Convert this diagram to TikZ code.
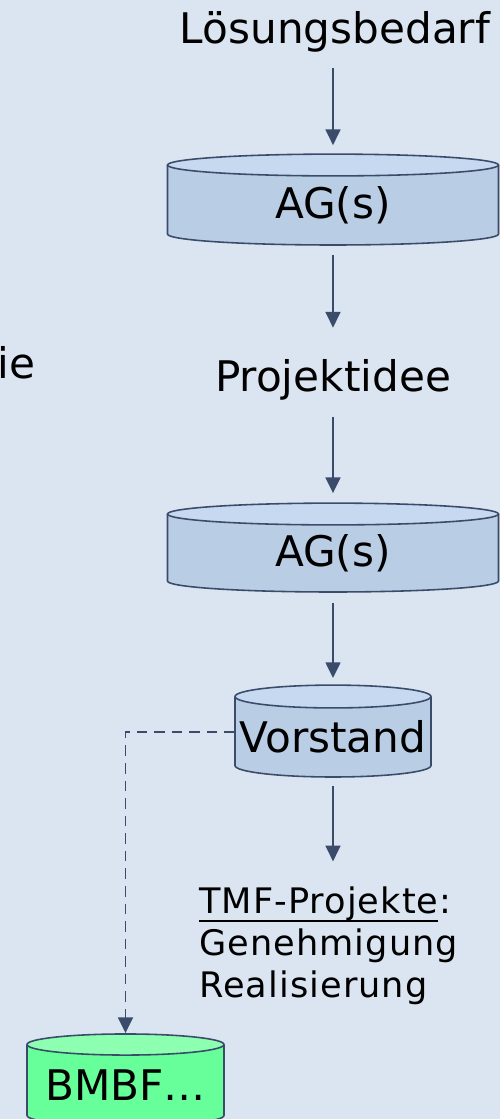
\documentclass[tikz,border=0pt]{standalone}
\usepackage{fontspec}
\setmainfont{DejaVu Sans}
\usepackage{xcolor}
\usepackage{tikz}
\usetikzlibrary{arrows.meta,calc}
\definecolor{bgblue}{HTML}{DBE5F1}
\definecolor{drumbody}{HTML}{B9CDE5}
\definecolor{drumtop}{HTML}{C6D9F1}
\definecolor{edgeblue}{HTML}{3B4C6B}
\definecolor{bmbfbody}{HTML}{66FF99}
\definecolor{bmbftop}{HTML}{8CFFB0}
\pgfdeclarelayer{drumlayer}
\pgfsetlayers{drumlayer,main}
\newlength\tmfw
\newcommand\tmfunder[1]{\settowidth\tmfw{#1}\rlap{\rule[-5pt]{\tmfw}{1.1pt}}#1}
% cylinder drawn round a named node: node, end radius, body colour, top colour
\newcommand\drumshape[4]{%
  \path[fill=#3, draw=edgeblue, line width=0.9pt]
    let \p1=($(#1.east)-(#1.west)$) in
    (#1.north west) -- ([yshift=#2]#1.south west)
    arc[start angle=180, end angle=360, x radius=0.5*\x1, y radius=#2]
    -- (#1.north east);
  \path[fill=#4, draw=edgeblue, line width=0.9pt]
    let \p1=($(#1.east)-(#1.west)$) in
    (#1.north) ellipse[x radius=0.5*\x1, y radius=#2];
}
\tikzset{
  big/.style={font=\fontsize{24}{29}\selectfont},
  drum/.style={big, rectangle, inner sep=0, outer sep=0},
  flow/.style={draw=edgeblue, line width=1.1pt, -{Triangle[length=9pt,width=8.5pt]}},
  link/.style={flow, dash pattern=on 6pt off 4pt},
}

\begin{document}
\begin{tikzpicture}[x=0.02cm,y=-0.02cm]
\useasboundingbox (0,0) rectangle (500,1119);
\clip (0,0) rectangle (500,1119);

\node[big, anchor=base east, inner sep=0] (cut) at (36,378) {ie};

\node[big, anchor=base, inner sep=0] (need) at (335,43) {Lösungsbedarf};
\node[drum, minimum width=6.62cm, minimum height=1.6cm] (ag1) at (333,205) {AG(s)};
\node[big, anchor=base, inner sep=0] (idee) at (333,391) {Projektidee};
\node[drum, minimum width=6.62cm, minimum height=1.56cm] (ag2) at (333,553) {AG(s)};
\node[drum, minimum width=3.92cm, minimum height=1.61cm] (vorstand) at (333,736.75) {Vorstand};
\node[anchor=north west, inner sep=0, align=left,
  font=\fontsize{20}{24}\selectfont\addfontfeature{LetterSpace=3}] (tmf) at (199,886)
  {\tmfunder{TMF-Projekte}:\\Genehmigung\\Realisierung};
\node[drum, minimum width=3.94cm, minimum height=1.63cm] (bmbf) at (125.5,1085.25) {BMBF…};

\begin{pgfonlayer}{drumlayer}
\fill[bgblue] (0,0) rectangle (500,1119);
\drumshape{ag1}{6.2pt}{drumbody}{drumtop}
\drumshape{ag2}{6.2pt}{drumbody}{drumtop}
\drumshape{vorstand}{6.5pt}{drumbody}{drumtop}
\drumshape{bmbf}{6pt}{bmbfbody}{bmbftop}
\end{pgfonlayer}

\draw[flow, shorten <=9pt, shorten >=11.3pt] (ag1.north |- need.south) -- (ag1.north);
\draw[flow, shorten <=5.7pt, shorten >=17.6pt] (ag1.south) -- (ag1.south |- idee.north);
\draw[flow, shorten <=9.6pt, shorten >=11.9pt] (ag2.north |- idee.south) -- (ag2.north);
\draw[flow, shorten <=6.2pt, shorten >=10.5pt] (ag2.south) -- (vorstand.north);
\draw[flow, shorten <=5pt, shorten >=14pt] (vorstand.south) -- (vorstand.south |- tmf.north);
\draw[link, shorten >=6.5pt] ([yshift=2.7pt]vorstand.west) -| (bmbf.north);
\end{tikzpicture}
\end{document}
